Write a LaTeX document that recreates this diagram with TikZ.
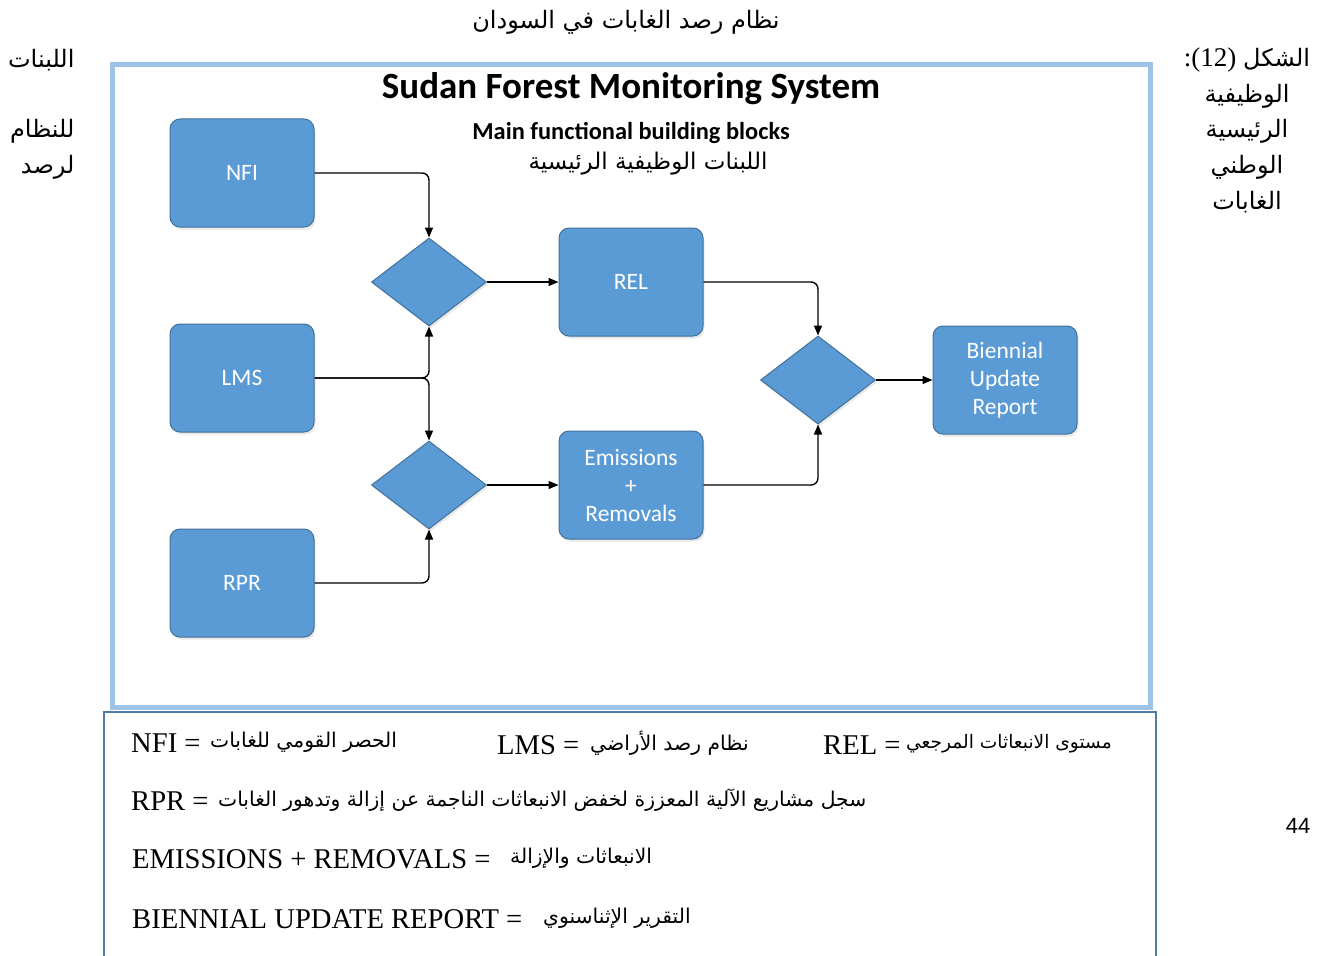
\documentclass[tikz,border=0pt]{standalone}
\usepackage{fontspec}
\setmainfont{Liberation Serif}
\newfontfamily\calibri{Carlito}
\newfontfamily\arialfont{Liberation Sans}
\newfontfamily\arabicfont[Script=Arabic]{DejaVu Sans}
\TeXXeTstate=1
\usetikzlibrary{shapes.geometric,arrows.meta,shadows}
\definecolor{blockblue}{HTML}{5B9BD5}
\definecolor{blockedge}{HTML}{41719C}
\definecolor{framelight}{HTML}{9DC3E6}
\definecolor{legendedge}{HTML}{4F7BA8}

\begin{document}
\begin{tikzpicture}[x=1pt,y=-1pt,
  block/.style={rectangle,rounded corners=10pt,draw=blockedge,fill=blockblue,line width=1pt,
    minimum width=144pt,minimum height=108pt,text=white,align=center,
    font=\calibri\fontsize{23.5}{28}\selectfont,
    drop shadow={shadow xshift=1.5pt,shadow yshift=-2.5pt,opacity=0.18}},
  decision/.style={diamond,draw=blockedge,fill=blockblue,line width=1pt,inner sep=0pt,
    minimum width=115pt,minimum height=88pt,
    drop shadow={shadow xshift=1.5pt,shadow yshift=-2.5pt,opacity=0.18}},
  link/.style={-{Triangle[length=10pt,width=8pt]},line width=1.4pt,rounded corners=7pt},
  ar/.style={font=\arabicfont\fontsize{24}{28}\selectfont},
  legar/.style={anchor=west,inner xsep=0pt,font=\arabicfont\fontsize{20.3}{24}\selectfont},
  leg/.style={anchor=west,inner xsep=0pt,font=\fontsize{28.6}{32}\selectfont}]
  \clip (0,0) rectangle (1321,955);
  \fill[white] (0,0) rectangle (1321,955);

  \node (pagetitle) at (626,22) [ar] {\beginR نظام رصد الغابات في السودان\endR};
  \node (leftA) at (78,60) [ar,anchor=east] {\beginR اللبنات\endR};
  \node (leftB) at (78,131) [ar,anchor=east] {\beginR للنظام\endR};
  \node (leftC) at (78,167) [ar,anchor=east] {\beginR لرصد\endR};
  \node (figlabel) at (1247,60) [font=\fontsize{27}{30}\selectfont] {:(12) {\arabicfont\fontsize{24}{28}\selectfont\beginR الشكل\endR}};
  \node (rightA) at (1247,96) [ar] {\beginR الوظيفية\endR};
  \node (rightB) at (1247,131) [ar] {\beginR الرئيسية\endR};
  \node (rightC) at (1247,167) [ar] {\beginR الوطني\endR};
  \node (rightD) at (1247,202) [ar] {\beginR الغابات\endR};
  \node (pagenum) at (1298,826) [font=\arialfont\fontsize{22}{26}\selectfont] {44};

  \draw[framelight,line width=5pt] (112,65) rectangle (1150,707);
  \node (title) at (631,89) [font=\calibri\bfseries\fontsize{37}{42}\selectfont] {Sudan Forest Monitoring System};
  \node (subtitle) at (631,133) [font=\calibri\bfseries\fontsize{24.4}{28}\selectfont] {Main functional building blocks};
  \node (subtitlear) at (648,164) [font=\arabicfont\fontsize{23}{28}\selectfont] {\beginR اللبنات الوظيفية الرئيسية\endR};

  \node[block] (nfi) at (242,173) {NFI};
  \node[block] (lms) at (242,378) {LMS};
  \node[block] (rpr) at (242,583) {RPR};
  \node[block] (rel) at (631,282) {REL};
  \node[block] (emrem) at (631,485) {Emissions\\+\\Removals};
  \node[block] (bur) at (1005,380) {Biennial\\Update\\Report};
  \node[decision] (joinA) at (429,282) {};
  \node[decision] (joinB) at (429,485) {};
  \node[decision] (joinC) at (818,380) {};

  \draw[link] (nfi.east) -| (joinA.north);
  \draw[link] (lms.east) -| (joinA.south);
  \draw[link] (lms.east) -| (joinB.north);
  \draw[link] (rpr.east) -| (joinB.south);
  \draw[link] (joinA.east) -- (rel.west);
  \draw[link] (joinB.east) -- (emrem.west);
  \draw[link] (rel.east) -| (joinC.north);
  \draw[link] (emrem.east) -| (joinC.south);
  \draw[link] (joinC.east) -- (bur.west);

  \draw[legendedge,line width=2.2pt] (104,712) rectangle (1156,990);
  \node[leg] (nfikey) at (131,743) {NFI =};
  \node[legar] (nfiar) at (210,742) {\beginR الحصر القومي للغابات\endR};
  \node[leg] (lmskey) at (497,745) {LMS =};
  \node[legar] (lmsar) at (590,743) {\beginR نظام رصد الأراضي\endR};
  \node[leg] (relkey) at (823,745) {REL =};
  \node[legar,font=\arabicfont\fontsize{18.6}{24}\selectfont] (relar) at (906,744) {\beginR مستوى الانبعاثات المرجعي\endR};
  \node[leg] (rprkey) at (131,801) {RPR =};
  \node[legar] (rprar) at (218,800) {\beginR سجل مشاريع الآلية المعززة لخفض الانبعاثات الناجمة عن إزالة وتدهور الغابات\endR};
  \node[leg] (emkey) at (132,859) {EMISSIONS + REMOVALS =};
  \node[legar] (emar) at (510,858) {\beginR الانبعاثات والإزالة\endR};
  \node[leg] (burkey) at (132,919) {BIENNIAL UPDATE REPORT =};
  \node[legar] (burar) at (543,918) {\beginR التقرير الإثناسنوي\endR};
\end{tikzpicture}
\end{document}
